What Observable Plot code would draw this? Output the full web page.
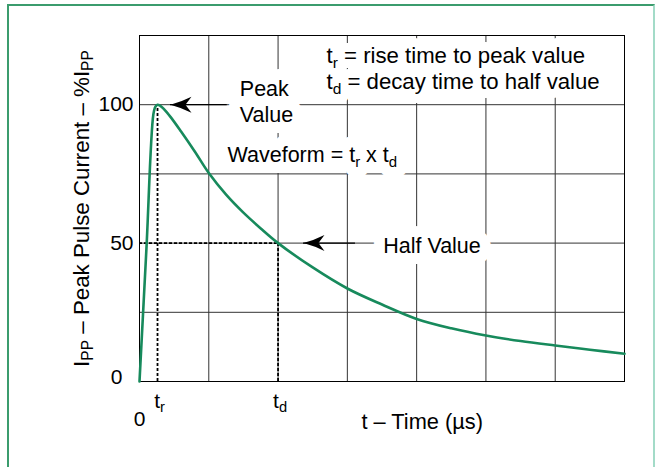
<!DOCTYPE html>
<html><head><meta charset="utf-8">
<script src="https://cdn.jsdelivr.net/npm/d3@7"></script>
<script src="https://cdn.jsdelivr.net/npm/@observablehq/plot@0.6"></script>
<style>
html,body{margin:0;padding:0;background:#fff;width:655px;height:467px;overflow:hidden}
#chart{position:absolute;left:0;top:0}
#border{position:absolute;left:7px;top:4px;width:644px;height:480px;border-left:2px solid #3b9c6d;border-top:2px solid #3b9c6d;border-right:2px solid #a3dbc8;pointer-events:none}
</style></head><body>
<div id="chart"></div><div id="border"></div>
<script>
// ---- data (x in grid units of time, y in % of peak current) ----
const timeUnits  = [0, 0.1, 0.2, 0.23, 0.26, 0.3, 0.35, 0.45, 0.6, 0.8, 1.0, 1.25, 1.5, 1.75, 2.0, 2.5, 3.0, 3.5, 4.0, 4.5, 5.0, 5.5, 6.0, 6.5, 7.0];
const currentPct = [0, 48, 96.5, 99.3, 100, 99.6, 98.5, 95.5, 90.3, 83, 75.3, 67.5, 61, 55.3, 50, 41.2, 33.6, 27.8, 22.6, 19.2, 16.6, 14.6, 13, 11.5, 10];
const riseTime = 0.26;
const decayTime = 2.0;
const peakValue = 100;
const halfValue = 50;
const gridXTicks = [1, 2, 3, 4, 5, 6];
const gridYTicks = [25, 50, 75, 100];
const yTickValues = [50, 100];
const yTickLabels = ["50", "100"];
const yZeroLabel = "0";
const xTickLabels = ["t_{r}", "t_{d}"];
const xZeroLabel = "0";
const xLabel = "t – Time (µs)";
const yLabel = "I_{PP} – Peak Pulse Current – %I_{PP}";
const annText = ["Peak", "Value", "Waveform = t_{r} x t_{d}", "Half Value"];
const annX = [1.448, 1.448, 1.27, 3.517];
const annY = [103.3, 93.9, 79.2, 46.5];
const legendText = ["t_{r} = rise time to peak value", "t_{d} = decay time to half value"];
const legendX = [2.699, 2.699];
const legendY = [115.2, 105.7];
const arrowTipX  = [0.447, 2.367];
const arrowTailX = [1.266, 3.117];
const arrowY     = [peakValue, halfValue];

const curve = timeUnits.map((t, i) => ({t, v: currentPct[i]}));
const ann = annText.map((s, i) => ({s, x: annX[i], y: annY[i]}));
const legend = legendText.map((s, i) => ({s, x: legendX[i], y: legendY[i]}));
const arrows = arrowY.map((y, i) => ({tip: arrowTipX[i], tail: arrowTailX[i], y}));

const arrowHead = {
  draw(ctx) {
    ctx.moveTo(0, 0);
    ctx.quadraticCurveTo(11, -3, 21, -8);
    ctx.lineTo(15, 0);
    ctx.lineTo(21, 8);
    ctx.quadraticCurveTo(11, 3, 0, 0);
    ctx.closePath();
  }
};

const green = "#178a5c";
const dash = {strokeDasharray: "3,2", strokeWidth: 1.8, stroke: "black"};
const halo = {fill: "white", stroke: "white", strokeWidth: 22, strokeLinejoin: "round"};

const fig = Plot.plot({
  width: 655, height: 467,
  marginLeft: 139, marginRight: 31, marginTop: 35, marginBottom: 86,
  x: {domain: [0, 7], axis: null},
  y: {domain: [0, 125], axis: null},
  style: {fontFamily: "'Liberation Sans', Arial, sans-serif", background: "transparent", color: "black", overflow: "visible"},
  marks: [
    Plot.ruleX(gridXTicks, {stroke: "#333", strokeWidth: 1}),
    Plot.ruleY(gridYTicks, {stroke: "#333", strokeWidth: 1}),
    Plot.frame({stroke: "black", strokeWidth: 1}),
    // white boxes behind annotation text
    Plot.text(ann, {x: "x", y: "y", text: "s", textAnchor: "start", lineAnchor: "bottom", fontSize: 21.5, ...halo}),
    Plot.text(legend, {x: "x", y: "y", text: "s", textAnchor: "start", lineAnchor: "bottom", fontSize: 22.2, ...halo, strokeWidth: 18}),
    Plot.text(ann, {x: "x", y: "y", text: "s", textAnchor: "start", lineAnchor: "bottom", fontSize: 21.5, fill: "black"}),
    Plot.text(legend, {x: "x", y: "y", text: "s", textAnchor: "start", lineAnchor: "bottom", fontSize: 22.2, fill: "black"}),
    // dotted reference lines
    Plot.ruleX([riseTime], {y1: 0, y2: peakValue, ...dash}),
    Plot.ruleX([decayTime], {y1: 0, y2: halfValue, ...dash}),
    Plot.ruleY([halfValue], {x1: 0, x2: decayTime, ...dash}),
    // arrows
    Plot.ruleY(arrows, {y: "y", x1: "tip", x2: "tail", stroke: "black", strokeWidth: 1.3}),
    Plot.dot(arrows, {x: "tip", y: "y", symbol: arrowHead, fill: "black", stroke: "none"}),
    // waveform
    Plot.line(curve, {x: "t", y: "v", stroke: green, strokeWidth: 2.6, curve: "catmull-rom"}),
    // y tick labels
    Plot.text(yTickValues, {frameAnchor: "left", y: d => d, text: (d, i) => yTickLabels[i], textAnchor: "end", lineAnchor: "middle", dx: -6, fontSize: 21}),
    Plot.text([0], {frameAnchor: "left", y: d => d, text: () => yZeroLabel, textAnchor: "end", lineAnchor: "middle", dx: -17, dy: -4, fontSize: 21}),
    // x tick labels
    Plot.text([riseTime, decayTime], {frameAnchor: "bottom", x: d => d, text: (d, i) => xTickLabels[i], textAnchor: "middle", lineAnchor: "bottom", dx: 2, dy: 26, fontSize: 21}),
    Plot.text([0], {frameAnchor: "bottom", x: d => d, text: () => xZeroLabel, textAnchor: "middle", lineAnchor: "bottom", dy: 44, fontSize: 21}),
    // axis labels
    Plot.text([xLabel], {frameAnchor: "bottom", x: () => 4.08, text: d => d, textAnchor: "middle", lineAnchor: "bottom", dy: 47, fontSize: 21.8}),
    Plot.text([yLabel], {frameAnchor: "left", text: d => d, rotate: -90, textAnchor: "middle", lineAnchor: "bottom", dx: -51, fontSize: 22.3})
  ]
});
document.getElementById("chart").appendChild(fig);

function applySubscripts(svg) {
  svg.querySelectorAll("text").forEach(t => {
    const s = t.textContent;
    if (!s.includes("_{")) return;
    const fs = parseFloat(getComputedStyle(t).fontSize);
    const drop = fs * 0.22;
    const parts = s.split(/(_\{[^}]*\})/);
    while (t.firstChild) t.removeChild(t.firstChild);
    let lowered = false;
    for (const p of parts) {
      if (!p) continue;
      const ts = document.createElementNS("http://www.w3.org/2000/svg", "tspan");
      if (p.startsWith("_{")) {
        ts.textContent = p.slice(2, -1);
        ts.setAttribute("font-size", (fs * 0.7).toFixed(1));
        if (!lowered) ts.setAttribute("dy", drop.toFixed(2));
        lowered = true;
      } else {
        ts.textContent = p;
        if (lowered) ts.setAttribute("dy", (-drop).toFixed(2));
        lowered = false;
      }
      t.appendChild(ts);
    }
  });
}
applySubscripts(fig);
</script>
</body></html>
